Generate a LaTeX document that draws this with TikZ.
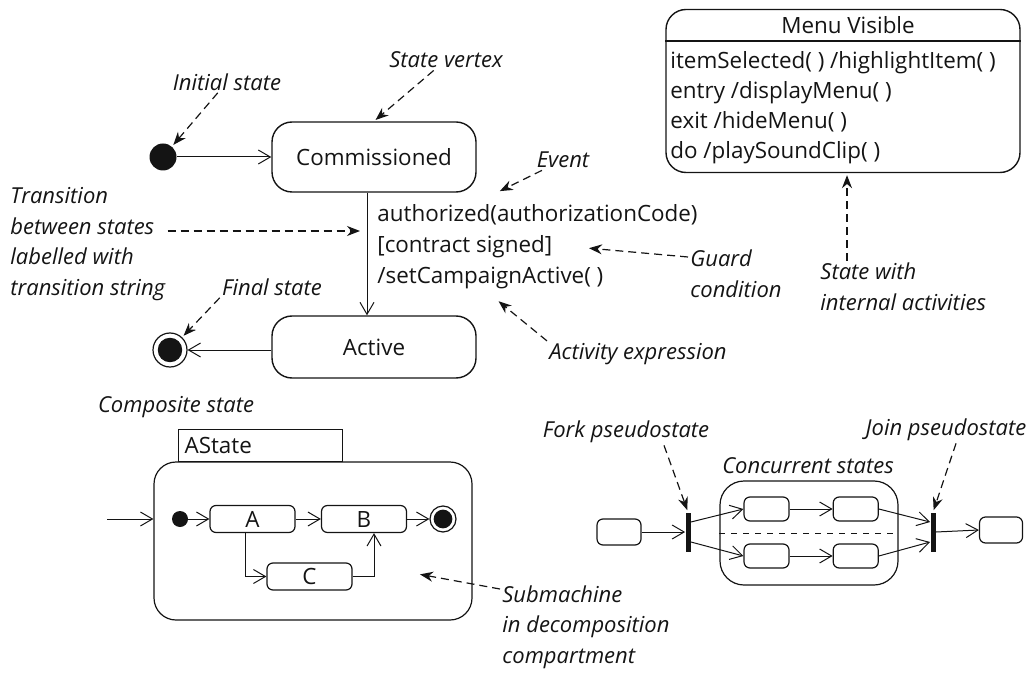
\documentclass[tikz,border=0pt]{standalone}
\usepackage{fontspec}
\setmainfont{Open Sans}
\usetikzlibrary{positioning,arrows.meta,calc}
\definecolor{ink}{HTML}{141414}

\begin{document}
\begin{tikzpicture}[
  x=0.5pt, y=-0.5pt, color=ink,
  font=\fontsize{11.2}{15.5}\selectfont,
  st/.style={draw, line width=0.7pt, rounded corners=10pt, minimum width=102pt, minimum height=35pt},
  sub/.style={draw, line width=0.6pt, rounded corners=3pt, minimum width=42.5pt, minimum height=13.5pt, inner sep=0pt},
  mini/.style={draw, line width=0.6pt, rounded corners=3pt, minimum width=22.5pt, minimum height=12pt, inner sep=0pt},
  ini/.style={circle, fill, inner sep=0pt, minimum size=#1},
  fin/.style={circle, draw, line width=0.6pt, inner sep=0pt, minimum size=#1,
    path picture={\fill (path picture bounding box.center) circle (0.36*#1);}},
  bar/.style={fill, inner sep=0pt, minimum width=2.5pt, minimum height=19.5pt},
  note/.style={font=\fontsize{11}{15.3}\selectfont\itshape, align=left, inner sep=1pt},
  tr/.style={line width=0.5pt, -{Straight Barb[length=6pt, width=7pt]}},
  ptr/.style={line width=0.6pt, dash pattern=on 4pt off 2.5pt, -{Stealth[length=6.5pt, width=5pt]}, shorten >=1pt}
]
\useasboundingbox (0,0) rectangle (1031,673);

\node[ini=13.5pt] (init) at (163,157) {};
\node[st] (cm) at (374,157) {Commissioned};
\node[st, minimum height=31pt] (act) at (374,347) {Active};
\node[fin=17pt] (done) at (170,350) {};
\node[anchor=west, align=left, inner sep=0pt] (tt) at (377,247)
  {authorized(authorizationCode)\\{[contract signed]}\\/setCampaignActive( )};

\node[note] (lini) at (227,82) {Initial state};
\node[note] (lvx) at (446,60) {State vertex};
\node[note] (lev) at (563,160) {Event};
\node[note, anchor=west] (ltr) at (8,244) {Transition\\between states\\labelled with\\transition string};
\node[note, anchor=west] (lgd) at (688,274) {Guard\\condition};
\node[note] (lfs) at (272,287) {Final state};
\node[note] (lae) at (638,354) {Activity expression};
\coordinate (evt) at (498,192);
\coordinate (trn) at (362,231);
\coordinate (grd) at (587,248);
\coordinate (axp) at (497,300);

\draw[tr] (init) -- (cm);
\draw[tr] ([xshift=-3.5pt]cm.south) -- ([xshift=-3.5pt]act.north);
\draw[tr] (act.west |- done) -- (done);
\draw[ptr] (lini) -- (init);
\draw[ptr] (lvx) -- (cm.north);
\draw[ptr] (lev) -- (evt);
\draw[ptr] (ltr.east |- trn) -- (trn);
\draw[ptr] ([yshift=8.5pt]lgd.west) -- (grd);
\draw[ptr] (lfs.south west) -- (done);
\draw[ptr] (lae.north west) -- (axp);

\node[draw, line width=0.7pt, rounded corners=10pt, minimum width=177pt, minimum height=81.5pt] (mv) at (843,91) {};
\node (mvt) at (848,25) {Menu Visible};
\draw[line width=0.7pt] (mv.west |- 0,41) -- (mv.east |- 0,41);
\node[anchor=west, align=left, inner sep=0pt, font=\fontsize{11.2}{15}\selectfont] (mvb) at (670,108)
  {itemSelected( ) /highlightItem( )\\entry /displayMenu( )\\exit /hideMenu( )\\do /playSoundClip( )};
\node[note, anchor=west] (lsw) at (818,287) {State with\\internal activities};
\draw[ptr] ([xshift=2pt]mv.south |- lsw.north) -- ([xshift=2pt]mv.south);

\node[note] (lcs) at (176,407) {Composite state};
\node[draw, line width=0.6pt, rounded corners=11pt, minimum width=159pt, minimum height=79pt] (cs) at (313,541) {};
\node[draw, line width=0.6pt, anchor=south west, minimum height=16pt, text width=76pt, inner xsep=3pt, inner ysep=0pt] (tab) at (178,462) {AState};
\node[ini=8pt] (ci) at (180,519) {};
\node[sub] (a) at (252.5,519) {A};
\node[sub] (b) at (364,519) {B};
\node[sub] (c) at (309.5,576.5) {C};
\node[fin=13pt] (cf) at (443,519) {};
\coordinate (cin) at (107,519);
\draw[tr] (cin) -- (cin -| cs.west);
\draw[tr] (ci) -- (a);
\draw[tr] (a) -- (b);
\draw[tr] (b) -- (cf);
\draw[tr] ([xshift=-3.5pt]a.south) |- (c.west);
\draw[tr] (c.east) -| ([xshift=5pt]b.south);
\node[note, anchor=west] (lsm) at (500,627) {Submachine\\in decomposition\\compartment};
\coordinate (smc) at (418,574);
\draw[ptr] ([yshift=-3pt]lsm.north west) -- (smc);

\node[mini, minimum width=22pt, minimum height=13pt] (lb) at (619,532) {};
\node[bar] (fk) at (688,532) {};
\node[draw, line width=0.6pt, rounded corners=12pt, minimum width=89pt, minimum height=52pt] (cc) at (809,533) {};
\node[mini] (t1) at (766.5,509) {};
\node[mini, right=21.5pt of t1] (t2) {};
\node[mini] (b1) at (766.5,556) {};
\node[mini, right=21.5pt of b1] (b2) {};
\node[bar] (jn) at (933,532) {};
\node[mini, minimum width=21.5pt, minimum height=13pt] (rb) at (1001,530) {};
\draw[dashed, line width=0.5pt] (cc.west) -- (cc.east);
\draw[tr] (lb) -- (fk);
\draw[tr] ([yshift=5pt]fk.east) -- (t1.west);
\draw[tr] ([yshift=-5pt]fk.east) -- (b1.west);
\draw[tr] (t1) -- (t2);
\draw[tr] (b1) -- (b2);
\draw[tr] (t2.east) -- ([yshift=5pt]jn.west);
\draw[tr] (b2.east) -- ([yshift=-5pt]jn.west);
\draw[tr] (jn.east) -- (rb.west);
\node[note] (lfk) at (626,432) {Fork pseudostate};
\node[note] (ljn) at (946,430) {Join pseudostate};
\node[note] (lcc) at (808,466) {Concurrent states};
\draw[ptr] ([xshift=19pt]lfk.south) -- (fk.north);
\draw[ptr] ([xshift=5pt]ljn.south) -- (jn.north);
\end{tikzpicture}
\end{document}
